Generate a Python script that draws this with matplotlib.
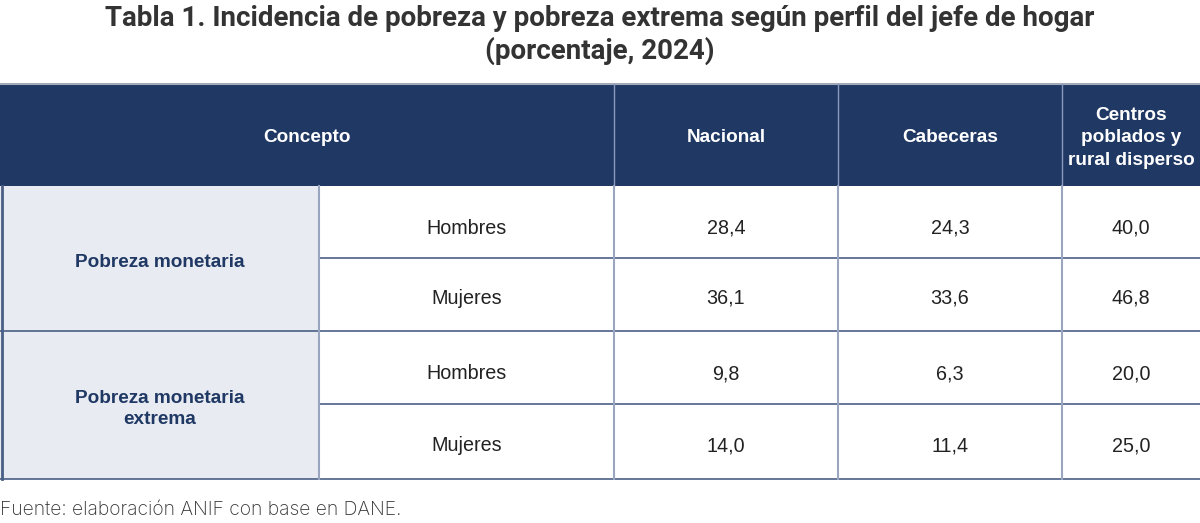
import matplotlib
matplotlib.use("Agg")
import matplotlib.pyplot as plt
from matplotlib.patches import Rectangle

title = "Tabla 1. Incidencia de pobreza y pobreza extrema según perfil del jefe de hogar\n(porcentaje, 2024)"
columns = ["Concepto", "Nacional", "Cabeceras", "Centros\npoblados y\nrural disperso"]
groups = ["Pobreza monetaria", "Pobreza monetaria\nextrema"]
subrows = ["Hombres", "Mujeres"]
nacional = [28.4, 36.1, 9.8, 14.0]
cabeceras = [24.3, 33.6, 6.3, 11.4]
centros = [40.0, 46.8, 20.0, 25.0]
source = "Fuente: elaboración ANIF con base en DANE."

W, H = 1200, 523
fig = plt.figure(figsize=(W / 100, H / 100), dpi=100)
ax = fig.add_axes([0, 0, 1, 1])
ax.set_xlim(0, W)
ax.set_ylim(H, 0)
ax.axis("off")

NAVY = "#203864"
GRPFILL = "#E8EBF1"
HLINE = "#4A5F86"
VLINE = "#9AA6BF"

# layout
x_edges = [0, 319, 614, 838, 1062, 1200]
y_head = (84, 186)
row_edges = [186, 258, 331, 404, 479]
baseline_off = [11.5, 9.5]

# title
ax.text(W / 2, 35, title, ha="center", va="center", fontsize=20, fontweight="bold",
        family="Roboto", color="#333333", linespacing=1.18)

# header
ax.add_patch(Rectangle((0, y_head[0]), W, y_head[1] - y_head[0], facecolor=NAVY, edgecolor="none"))
ax.plot([0, W], [y_head[0], y_head[0]], color="#A3ABBA", lw=1.5)
hx = [(x_edges[0] + x_edges[2]) / 2, (x_edges[2] + x_edges[3]) / 2,
      (x_edges[3] + x_edges[4]) / 2, (x_edges[4] + x_edges[5]) / 2]
for cx, lab in zip(hx, columns):
    ax.text(cx, (y_head[0] + y_head[1]) / 2 + 3, lab, ha="center", va="center", color="white",
            fontsize=13.7, fontweight="bold", family="Liberation Sans", linespacing=1.4)
for xv in x_edges[2:5]:
    ax.plot([xv, xv], [y_head[0], y_head[1]], color="#8C9CBB", lw=1)

# group cells
for g, lab in enumerate(groups):
    y0, y1 = row_edges[2 * g], row_edges[2 * g + 2]
    ax.add_patch(Rectangle((0, y0), x_edges[1], y1 - y0, facecolor=GRPFILL, edgecolor="none"))
    ax.text(x_edges[1] / 2, (y0 + y1) / 2 + 4, lab, ha="center", va="center", color="#1F3864",
            fontsize=13.7, fontweight="bold", family="Liberation Sans", linespacing=1.3)

# data rows
for i in range(4):
    y0, y1 = row_edges[i], row_edges[i + 1]
    by = (y0 + y1) / 2 + baseline_off[i % 2]
    ax.text((x_edges[1] + x_edges[2]) / 2, by, subrows[i % 2], ha="center", va="baseline",
            color="#222222", fontsize=14.2, family="Liberation Sans")
    for j, vals in enumerate([nacional, cabeceras, centros]):
        cx = (x_edges[2 + j] + x_edges[3 + j]) / 2
        ax.text(cx, by, f"{vals[i]:.1f}".replace(".", ","), ha="center", va="baseline",
                color="#222222", fontsize=14.2, family="Liberation Sans")

# horizontal lines
for k, yv in enumerate(row_edges[1:]):
    if k % 2 == 0 and k < 3:
        ax.plot([x_edges[1], W], [yv, yv], color=HLINE, lw=1.2)
    else:
        ax.plot([0, W], [yv, yv], color=HLINE, lw=1.2)

# vertical lines in body
for xv in x_edges[1:5]:
    ax.plot([xv, xv], [row_edges[0], row_edges[-1]], color=VLINE, lw=1.5)
ax.plot([1.5, 1.5], [row_edges[0], row_edges[-1]], color=HLINE, lw=2)

ax.text(0, 510, source, ha="left", va="center", fontsize=13.9, family="Inter",
        fontweight="light", color="#333333")

fig.savefig("out.png", dpi=100)
